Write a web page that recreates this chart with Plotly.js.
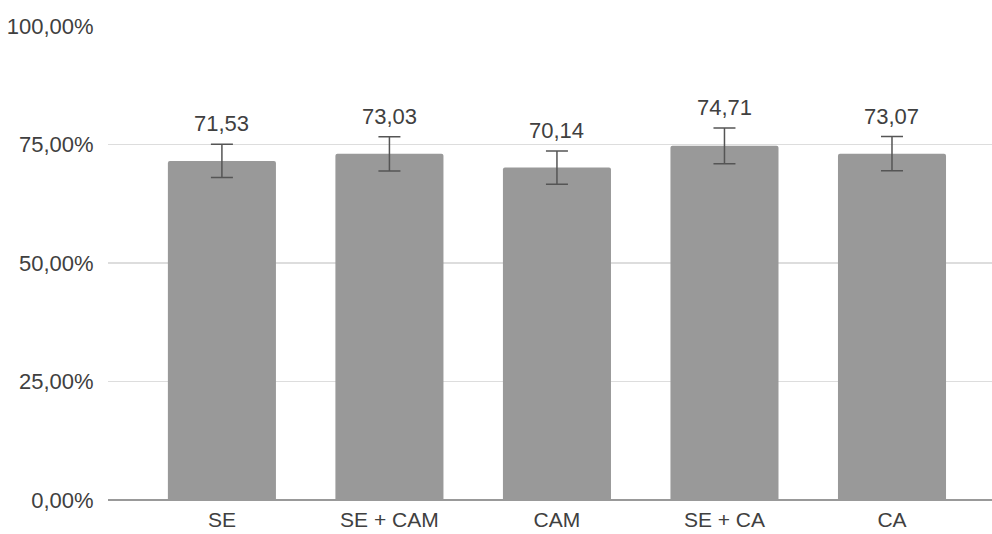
<!DOCTYPE html>
<html>
<head>
<meta charset="utf-8">
<script src="https://cdn.plot.ly/plotly-3.0.1.min.js"></script>
<style>html,body{margin:0;padding:0;background:#fff;}#chart{width:992px;height:534px;}</style>
</head>
<body>
<div id="chart"></div>
<script>
const categories = ["SE", "SE + CAM", "CAM", "SE + CA", "CA"];
const values = [71.53, 73.03, 70.14, 74.71, 73.07];
const errors = [3.5, 3.6, 3.5, 3.75, 3.6];
const valueLabels = ["71,53", "73,03", "70,14", "74,71", "73,07"];
const yTickVals = [0, 25, 50, 75, 100];
const yTickText = ["0,00%", "25,00%", "50,00%", "75,00%", "100,00%"];

const FONT = "'Liberation Sans', Arial, sans-serif";

const trace = {
  type: "bar",
  x: categories,
  y: values,
  width: 0.645,
  marker: {color: "#999999", line: {width: 0}},
  error_y: {type: "data", array: errors, visible: true, color: "#555555", thickness: 1.5, width: 11},
  hoverinfo: "none"
};

const annotations = categories.map((c, i) => ({
  x: c, y: values[i] + errors[i], xref: "x", yref: "y",
  text: valueLabels[i], showarrow: false, yanchor: "bottom", yshift: 6,
  font: {family: FONT, size: 22, color: "#404040"}
}));

const layout = {
  width: 992, height: 534,
  margin: {l: 108, r: 0, t: 26, b: 34, pad: 0},
  paper_bgcolor: "#ffffff", plot_bgcolor: "#ffffff",
  font: {family: FONT, size: 22, color: "#404040"},
  showlegend: false,
  barcornerradius: 2,
  xaxis: {
    type: "category", range: [-0.68, 4.597], showgrid: false, zeroline: false,
    showline: false, ticks: "outside", ticklen: 1, tickcolor: "rgba(0,0,0,0)",
    tickfont: {family: FONT, size: 21, color: "#404040"}, fixedrange: true
  },
  yaxis: {
    range: [0, 100], tickvals: yTickVals, ticktext: yTickText,
    showgrid: true, gridcolor: "#dddddd", gridwidth: 1.5,
    zeroline: true, zerolinecolor: "#999999", zerolinewidth: 2,
    showline: false, ticks: "outside", ticklen: 9, tickcolor: "rgba(0,0,0,0)",
    tickfont: {family: FONT, size: 22, color: "#404040"}, fixedrange: true
  },
  annotations: annotations
};

Plotly.newPlot("chart", [trace], layout, {displayModeBar: false, staticPlot: true});
</script>
</body>
</html>
